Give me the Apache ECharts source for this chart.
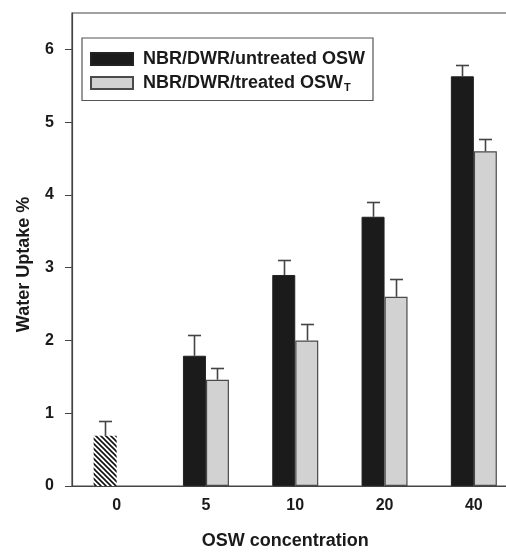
<!DOCTYPE html>
<html>
<head>
<meta charset="utf-8">
<script src="https://cdn.jsdelivr.net/npm/echarts@6/dist/echarts.min.js"></script>
<style>
html,body{margin:0;padding:0;background:#fff;}
#chart{width:506px;height:552px;}
</style>
</head>
<body>
<div id="chart"></div>
<script>
// ---- data ----
const categories = ['0', '5', '10', '20', '40'];
const untreatedName = 'NBR/DWR/untreated OSW';
const treatedName = 'NBR/DWR/treated OSW_T';
const untreatedValues = [0.69, 1.79, 2.90, 3.70, 5.63];
const untreatedErrors = [0.21, 0.28, 0.20, 0.20, 0.16];
const treatedValues = [null, 1.46, 2.00, 2.60, 4.60];
const treatedErrors = [null, 0.16, 0.22, 0.25, 0.17];
const yTicks = [0, 1, 2, 3, 4, 5, 6];

// hatch pattern for the control (0) bar
function hatch() {
  const s = 5;
  const c = document.createElement('canvas');
  c.width = s; c.height = s;
  const g = c.getContext('2d');
  g.fillStyle = '#ffffff';
  g.fillRect(0, 0, s, s);
  g.strokeStyle = '#111';
  g.lineWidth = 1.6;
  g.beginPath();
  g.moveTo(-1, -1); g.lineTo(s + 1, s + 1);
  g.moveTo(-1, s - 1); g.lineTo(1, s + 1);
  g.moveTo(s - 1, -1); g.lineTo(s + 1, 1);
  g.stroke();
  return c;
}

const BAR_W = 23;
const ERR_COLOR = '#444';

function errSeries(values, errors, offset) {
  const data = [];
  values.forEach((v, i) => {
    if (v != null && errors[i] != null) data.push([i, v, errors[i]]);
  });
  return {
    type: 'custom',
    silent: true,
    z: 1,
    data: data,
    encode: { x: 0, y: 1 },
    renderItem: function (params, api) {
      const i = api.value(0), v = api.value(1), e = api.value(2);
      const base = api.coord([i, v]);
      const top = api.coord([i, v + e]);
      const cx = Math.round(base[0] + offset) + 0.5;
      const ty = Math.round(top[1]) + 0.5;
      const st = { stroke: ERR_COLOR, lineWidth: 1.6 };
      return {
        type: 'group',
        children: [
          { type: 'line', shape: { x1: cx, y1: base[1], x2: cx, y2: ty }, style: st },
          { type: 'line', shape: { x1: cx - 6.5, y1: ty, x2: cx + 6.5, y2: ty }, style: st }
        ]
      };
    }
  };
}

const chart = echarts.init(document.getElementById('chart'), null, { renderer: 'canvas' });
const FONT = 'Liberation Sans, Arial, sans-serif';

chart.setOption({
  animation: false,
  backgroundColor: '#fff',
  grid: {
    left: 72, top: 13, width: 446.5, height: 473,
    outerBoundsMode: 'none',
    containLabel: false,
    show: true, borderColor: '#444', borderWidth: 1.2, backgroundColor: 'transparent'
  },
  legend: {
    data: [untreatedName, treatedName],
    orient: 'vertical',
    left: 82, top: 38,
    padding: [12, 8, 7, 8],
    icon: 'rect',
    itemWidth: 42, itemHeight: 12, itemGap: 6,
    borderColor: '#555', borderWidth: 1.2,
    selectedMode: false,
    formatter: function (name) {
      if (name.endsWith('_T')) return '{n|' + name.slice(0, -2) + '}{s|T}';
      return '{n|' + name + '}';
    },
    textStyle: {
      fontFamily: FONT, fontWeight: 'bold', fontSize: 18, color: '#1a1a1a',
      rich: {
        n: { fontFamily: FONT, fontWeight: 'bold', fontSize: 18, color: '#1a1a1a', padding: [0, 0, 0, 5] },
        s: { fontFamily: FONT, fontWeight: 'bold', fontSize: 11, color: '#1a1a1a', padding: [10, 0, 0, 1] }
      }
    }
  },
  xAxis: {
    type: 'category',
    data: categories,
    axisLine: { lineStyle: { color: '#444', width: 1.2 } },
    axisTick: { show: false },
    axisLabel: { fontFamily: FONT, fontWeight: 'bold', fontSize: 16, color: '#1a1a1a', margin: 12 },
    name: 'OSW concentration',
    nameLocation: 'middle',
    nameGap: 46,
    nameTextStyle: { fontFamily: FONT, fontWeight: 'bold', fontSize: 18, color: '#1a1a1a', padding: [0, 20, 0, 0] }
  },
  yAxis: {
    type: 'value',
    min: 0, max: 6.5, interval: 1,
    axisLine: { show: true, lineStyle: { color: '#444', width: 1.2 } },
    axisTick: { show: true, inside: false, length: 7, lineStyle: { color: '#444' }, customValues: yTicks },
    splitLine: { show: false },
    axisLabel: {
      fontFamily: FONT, fontWeight: 'bold', fontSize: 16, color: '#1a1a1a', margin: 18,
      customValues: yTicks
    },
    name: 'Water Uptake %',
    nameLocation: 'middle',
    nameGap: 39,
    nameTextStyle: { fontFamily: FONT, fontWeight: 'bold', fontSize: 18, color: '#1a1a1a', padding: [0, 30, 0, 0] }
  },
  series: [
    {
      name: untreatedName,
      type: 'bar',
      barWidth: BAR_W,
      barGap: '0%',
      z: 2,
      itemStyle: { color: '#1b1b1b', borderColor: '#222', borderWidth: 1 },
      data: untreatedValues.map((v, i) => i === 0
        ? { value: v, itemStyle: { color: { image: hatch(), repeat: 'repeat' }, borderWidth: 0 } }
        : v)
    },
    {
      name: treatedName,
      type: 'bar',
      barWidth: BAR_W,
      barGap: '0%',
      z: 2,
      itemStyle: { color: '#d2d2d2', borderColor: '#4a4a4a', borderWidth: 1.2 },
      data: treatedValues.map(v => v == null ? '-' : v)
    },
    errSeries(untreatedValues, untreatedErrors, -BAR_W / 2),
    errSeries(treatedValues, treatedErrors, BAR_W / 2)
  ]
});
</script>
</body>
</html>
